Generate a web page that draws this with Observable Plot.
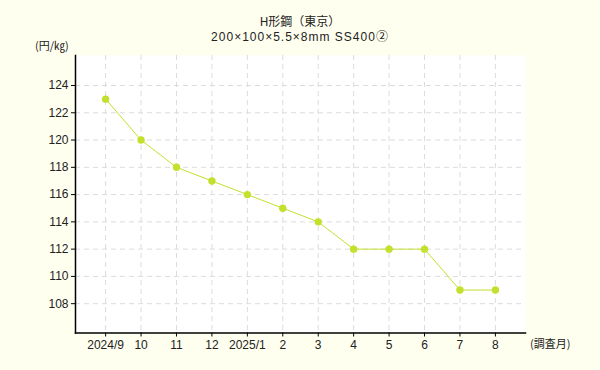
<!DOCTYPE html>
<html><head><meta charset="utf-8">
<script src="https://cdn.jsdelivr.net/npm/d3@7"></script>
<script src="https://cdn.jsdelivr.net/npm/@observablehq/plot@0.6"></script>
<style>
html,body{margin:0;padding:0;background:#fffff0;}
#wrap{position:relative;width:600px;height:370px;font-family:"Liberation Sans","Noto Sans CJK JP",sans-serif;color:#222;}
.t{position:absolute;white-space:nowrap;font-size:12px;line-height:14px;}
.cjk{font-family:"Noto Sans CJK JP","Liberation Sans",sans-serif;}
</style></head>
<body><div id="wrap">
<div class="t cjk" style="left:0;width:600px;text-align:center;top:14px;">H形鋼（東京）</div>
<div class="t" style="left:0;width:600px;text-align:center;top:30px;letter-spacing:1px;">200×100×5.5×8mm SS400②</div>
<div class="t cjk" style="left:35px;top:38px;font-size:11px;">(円/㎏)</div>
<div class="t cjk" style="left:530px;top:336px;font-size:11px;">(調査月)</div>
</div>
<script>
const months = ["2024/9","10","11","12","2025/1","2","3","4","5","6","7","8"];
const prices = [123,120,118,117,116,115,114,112,112,112,109,109];
const yTicks = [108,110,112,114,116,118,120,122,124];
const data = months.map((m,i)=>({m, v: prices[i]}));
const color = "#c4e02c";
const chart = Plot.plot({
  width: 600, height: 370,
  marginLeft: 75, marginRight: 75, marginTop: 55, marginBottom: 37.5,
  style: {background: "transparent", fontFamily: '"Liberation Sans","Noto Sans CJK JP",sans-serif', fontSize: "12px", color: "#222"},
  x: {type: "point", domain: months, padding: 0.85, round: false},
  y: {domain: [105.85, 126.2]},
  marks: [
    Plot.frame({fill: "white", stroke: null}),
    Plot.gridY(yTicks, {stroke: "#dcdcdc", strokeOpacity: 1, strokeDasharray: "5,4"}),
    Plot.gridX(months, {stroke: "#dcdcdc", strokeOpacity: 1, strokeDasharray: "5,4"}),
    Plot.axisY(yTicks, {label: null, tickSize: 4, tickPadding: 3, stroke: "#000", fill: "#222"}),
    Plot.axisX(months, {label: null, tickSize: 4, tickPadding: 3, stroke: "#000", fill: "#222"}),
    Plot.frame({anchor: "left", stroke: "#000", strokeWidth: 1.5}),
    Plot.frame({anchor: "bottom", stroke: "#000", strokeWidth: 1.5}),
    Plot.line(data, {x: "m", y: "v", stroke: color, strokeWidth: 1}),
    Plot.dot(data, {x: "m", y: "v", r: 3.7, fill: color, stroke: null})
  ]
});
chart.style.position = "absolute";
chart.style.left = "0px";
chart.style.top = "0px";
document.getElementById("wrap").prepend(chart);
</script>
</body></html>
